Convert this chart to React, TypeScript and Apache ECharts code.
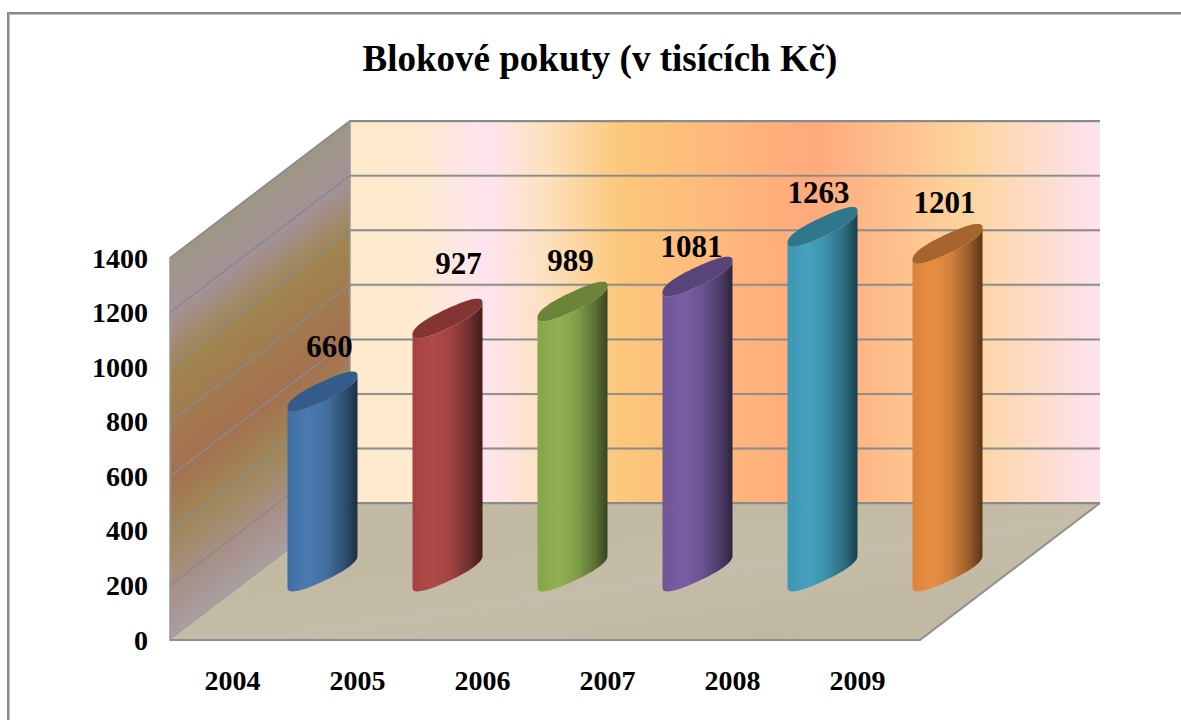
import React, { useEffect, useRef } from "react";
import * as echarts from "echarts";

const titleText = "Blokové pokuty (v tisících Kč)";
const categories = ["2004", "2005", "2006", "2007", "2008", "2009"];
const values = [660, 927, 989, 1081, 1263, 1201];
const yTicks = [0, 200, 400, 600, 800, 1000, 1200, 1400];
const labelDx = [7, 11, -2, -6, -4, -3];
const labelDy = [-113, -124, -110, -99, -103, -110];

const bodyStops = [
  ["#3f6ea4", "#4a7ab2", "#44709f", "#2e4e72", "#1b2f44"],
  ["#a54240", "#b04a48", "#a04341", "#6e2f2d", "#431b1a"],
  ["#86a549", "#91b054", "#81a04a", "#5b7134", "#37451f"],
  ["#6f5697", "#785ea2", "#6c5592", "#4c3b68", "#2e243f"],
  ["#3c97b3", "#45a2be", "#3d91ac", "#2b6b7f", "#18404d"],
  ["#dc843b", "#e88f43", "#d2803c", "#96592a", "#593616"],
];
const topColors = ["#335c8a", "#843432", "#6b843a", "#59447a", "#2f788c", "#a5652d"];

const FONT = "'Liberation Serif', 'Times New Roman', serif";
const DEPTH_X = 180;
const DEPTH_Y = 137;
const HALF_W = 35;
const SKEW = 16;
const MINOR = 10;
const ROUNDNESS = 0.82;

function ellipsePoint(cx: number, cy: number, t: number) {
  const c = Math.cos(t);
  const s = Math.sin(t);
  const u = Math.sign(c) * Math.pow(Math.abs(c), ROUNDNESS);
  const w = Math.sign(s) * Math.pow(Math.abs(s), ROUNDNESS);
  return [cx + HALF_W * u, cy - SKEW * u + MINOR * w];
}

function renderBar(_params: any, api: any) {
  const i = api.value(0);
  const v = api.value(1);
  const top = api.coord([i, v]);
  const base = api.coord([i, 0]);
  const cx = top[0] + DEPTH_X / 2;
  const cyTop = top[1] - DEPTH_Y / 2;
  const cyBase = base[1] - DEPTH_Y / 2;
  const n = 40;
  const lowerBase: number[][] = [];
  const lowerTop: number[][] = [];
  const whole: number[][] = [];
  for (let k = 0; k <= n; k++) {
    const t = (Math.PI * k) / n;
    lowerBase.push(ellipsePoint(cx, cyBase, Math.PI - t));
    lowerTop.push(ellipsePoint(cx, cyTop, t));
  }
  for (let k = 0; k < 2 * n; k++) whole.push(ellipsePoint(cx, cyTop, (Math.PI * k) / n));
  const s = bodyStops[i];
  return {
    type: "group",
    children: [
      {
        type: "polygon",
        shape: { points: [...lowerBase, ...lowerTop] },
        style: {
          fill: new echarts.graphic.LinearGradient(0, 0, 1, 0, [
            { offset: 0, color: s[0] },
            { offset: 0.3, color: s[1] },
            { offset: 0.55, color: s[2] },
            { offset: 0.82, color: s[3] },
            { offset: 1, color: s[4] },
          ]),
        },
      },
      { type: "polygon", shape: { points: whole }, style: { fill: topColors[i] } },
      {
        type: "text",
        style: {
          x: cx + labelDx[i],
          y: top[1] + labelDy[i],
          text: String(v),
          fill: "#000",
          fontFamily: FONT,
          fontWeight: "bold",
          fontSize: 31,
          align: "center",
          verticalAlign: "middle",
        },
      },
    ],
  };
}

function renderWalls(params: any) {
  const { x, y, width, height } = params.coordSys;
  const bottom = y + height;
  const right = x + width;
  const bx = x + DEPTH_X;
  const by = bottom - DEPTH_Y;
  // the side wall's colour bands run along the depth direction
  const len = Math.hypot(DEPTH_X, DEPTH_Y);
  const nx = DEPTH_Y / len;
  const ny = DEPTH_X / len;
  const proj = height * ny;
  return {
    type: "group",
    children: [
      {
        type: "polygon",
        shape: { points: [[bx, y - DEPTH_Y], [right + DEPTH_X, y - DEPTH_Y], [right + DEPTH_X, by], [bx, by]] },
        style: {
          fill: new echarts.graphic.LinearGradient(0, 0, 1, 0, [
            { offset: 0, color: "#fdeacb" },
            { offset: 0.09, color: "#fdeacf" },
            { offset: 0.18, color: "#ffe4f0" },
            { offset: 0.26, color: "#fde1c0" },
            { offset: 0.36, color: "#fcc87b" },
            { offset: 0.62, color: "#ffa97c" },
            { offset: 0.82, color: "#fdd49c" },
            { offset: 1, color: "#fde3f0" },
          ]),
        },
      },
      {
        type: "polygon",
        shape: { points: [[x, y], [bx, y - DEPTH_Y], [bx, by], [x, bottom]] },
        style: {
          fill: new echarts.graphic.LinearGradient(
            x, y, x + nx * proj, y + ny * proj,
            [
              { offset: 0, color: "#9e9782" },
              { offset: 0.15, color: "#a39299" },
              { offset: 0.3, color: "#a0854f" },
              { offset: 0.57, color: "#a5704f" },
              { offset: 0.72, color: "#a08758" },
              { offset: 0.9, color: "#a8928f" },
              { offset: 1, color: "#a8a0a0" },
            ],
            true
          ),
          stroke: "#999999",
          lineWidth: 1.5,
        },
      },
      {
        type: "polygon",
        shape: { points: [[x, bottom], [right, bottom], [right + DEPTH_X, by], [bx, by]] },
        style: {
          fill: new echarts.graphic.LinearGradient(0, 0, 1, 1, [
            { offset: 0, color: "#c4bba8" },
            { offset: 0.3, color: "#c2b9a2" },
            { offset: 0.55, color: "#c5bda9" },
            { offset: 0.8, color: "#c1b8a1" },
            { offset: 1, color: "#c3baa5" },
          ]),
        },
      },
      {
        type: "polyline",
        shape: { points: [[x, bottom], [right, bottom], [right + DEPTH_X, by]] },
        style: { stroke: "#909090", lineWidth: 2, fill: "none" },
      },
    ],
  };
}

function renderGridLine(params: any, api: any) {
  const v = api.value(0);
  const { x, width } = params.coordSys;
  const p = api.coord([0, v]);
  const yy = p[1];
  const backY = yy - DEPTH_Y;
  const children: any[] = [
    {
      type: "line",
      shape: { x1: x + DEPTH_X, y1: backY + 1, x2: x + width + DEPTH_X, y2: backY + 1 },
      style: { stroke: "rgba(140,140,140,0.3)", lineWidth: 1.5 },
    },
    {
      type: "line",
      shape: { x1: x + DEPTH_X, y1: backY, x2: x + width + DEPTH_X, y2: backY },
      style: { stroke: "#8a8a8a", lineWidth: 1.8 },
    },
  ];
  if (v > 0) {
    children.push({
      type: "line",
      shape: { x1: x, y1: yy, x2: x + DEPTH_X, y2: backY },
      style: { stroke: "#8a8a8a", lineWidth: 1.6 },
    });
  }
  return { type: "group", children };
}

export default function App() {
  const ref = useRef<HTMLDivElement>(null);
  useEffect(() => {
    const chart = echarts.init(ref.current!, null, { renderer: "svg" });
    chart.setOption({
      animation: false,
      backgroundColor: "#ffffff",
      title: {
        text: titleText,
        left: 595,
        top: 35,
        textAlign: "center",
        textStyle: { fontFamily: FONT, fontWeight: "bold", fontSize: 37, color: "#000" },
      },
      graphic: [
        {
          type: "rect",
          silent: true,
          z: -1,
          shape: { x: 9.5, y: 14.5, width: 1400, height: 900 },
          style: { fill: "none", stroke: "#bdbdbd", lineWidth: 1 },
        },
        {
          type: "rect",
          silent: true,
          z: -1,
          shape: { x: 8, y: 13, width: 1400, height: 900 },
          style: { fill: "none", stroke: "#8a8a8a", lineWidth: 2 },
        },
      ],
      grid: { left: 170, right: 261, top: 258, height: 382 },
      xAxis: {
        type: "category",
        data: categories,
        axisLine: { show: false },
        axisTick: { show: false },
        axisLabel: {
          margin: 26,
          fontFamily: FONT,
          fontWeight: "bold",
          fontSize: 28,
          color: "#000",
        },
      },
      yAxis: {
        type: "value",
        min: 0,
        max: 1400,
        interval: 200,
        axisLine: { show: false },
        axisTick: { show: false },
        splitLine: { show: false },
        axisLabel: {
          margin: 22,
          fontFamily: FONT,
          fontWeight: "bold",
          fontSize: 28,
          color: "#000",
          formatter: (v: number) => String(v),
        },
      },
      series: [
        { type: "custom", z: 1, silent: true, data: [[0]], renderItem: renderWalls, clip: false },
        {
          type: "custom",
          z: 2,
          silent: true,
          data: yTicks.map((t) => [t]),
          encode: { y: 0 },
          renderItem: renderGridLine,
          clip: false,
        },
        {
          type: "custom",
          z: 3,
          data: values.map((v, i) => [i, v]),
          encode: { x: 0, y: 1 },
          renderItem: renderBar,
          clip: false,
        },
      ],
    });
    return () => chart.dispose();
  }, []);
  return <div ref={ref} style={{ position: "absolute", left: 0, top: 0, width: 1181, height: 720 }} />;
}
